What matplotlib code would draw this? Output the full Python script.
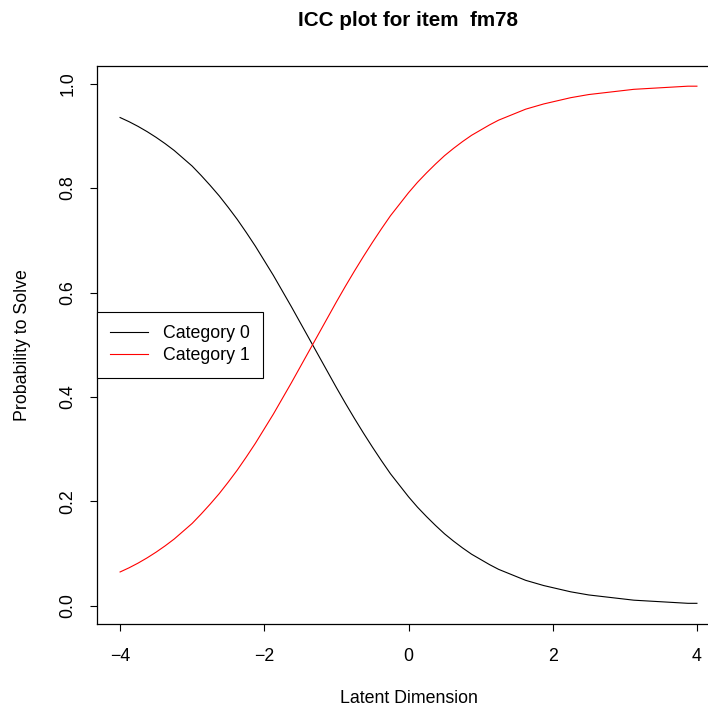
import matplotlib
matplotlib.use("Agg")
from matplotlib import pyplot as plt

# values
theta = [-4.0, -3.875, -3.75, -3.625, -3.5, -3.375, -3.25, -3.125, -3.0, -2.875,
         -2.75, -2.625, -2.5, -2.375, -2.25, -2.125, -2.0, -1.875, -1.75, -1.625,
         -1.5, -1.375, -1.25, -1.125, -1.0, -0.875, -0.75, -0.625, -0.5, -0.375,
         -0.25, -0.125, 0.0, 0.125, 0.25, 0.375, 0.5, 0.625, 0.75, 0.875,
         1.0, 1.125, 1.25, 1.375, 1.5, 1.625, 1.75, 1.875, 2.0, 2.125,
         2.25, 2.375, 2.5, 2.625, 2.75, 2.875, 3.0, 3.125, 3.25, 3.375,
         3.5, 3.625, 3.75, 3.875, 4.0]
cat1 = [0.065, 0.073, 0.082, 0.092, 0.103, 0.115, 0.128, 0.143, 0.158, 0.176,
        0.195, 0.215, 0.237, 0.260, 0.285, 0.311, 0.339, 0.367, 0.397, 0.427,
        0.458, 0.489, 0.520, 0.551, 0.582, 0.612, 0.641, 0.669, 0.696, 0.722,
        0.747, 0.769, 0.791, 0.811, 0.829, 0.846, 0.862, 0.876, 0.889, 0.901,
        0.911, 0.921, 0.930, 0.937, 0.944, 0.951, 0.956, 0.961, 0.965, 0.969,
        0.973, 0.976, 0.979, 0.981, 0.983, 0.985, 0.987, 0.989, 0.990, 0.991,
        0.992, 0.993, 0.994, 0.995, 0.995]
cat0 = [0.935, 0.927, 0.918, 0.908, 0.897, 0.885, 0.872, 0.857, 0.842, 0.824,
        0.805, 0.785, 0.763, 0.740, 0.715, 0.689, 0.661, 0.633, 0.603, 0.573,
        0.542, 0.511, 0.480, 0.449, 0.418, 0.388, 0.359, 0.331, 0.304, 0.278,
        0.253, 0.231, 0.209, 0.189, 0.171, 0.154, 0.138, 0.124, 0.111, 0.099,
        0.089, 0.079, 0.070, 0.063, 0.056, 0.049, 0.044, 0.039, 0.035, 0.031,
        0.027, 0.024, 0.021, 0.019, 0.017, 0.015, 0.013, 0.011, 0.010, 0.009,
        0.008, 0.007, 0.006, 0.005, 0.005]
labels = ["Category 0", "Category 1"]
xticks = [-4, -2, 0, 2, 4]
yticks = [0.0, 0.2, 0.4, 0.6, 0.8, 1.0]

plt.rcParams['font.family'] = ['Liberation Sans', 'DejaVu Sans']
FS = 12.8

W, H = 708, 709
fig = plt.figure(figsize=(W / 100, H / 100), dpi=100)
# plot region in pixels (R base graphics, region runs past the right edge)
left, right, top, bottom = 97, 720, 65.5, 624
ax = fig.add_axes([left / W, 1 - bottom / H, (right - left) / W, (bottom - top) / H])

ax.plot(theta, cat0, color="black", lw=0.8, label=labels[0])
ax.plot(theta, cat1, color="red", lw=0.8, label=labels[1])

# R style 4% padding around the data range
lo = min(min(cat0), min(cat1))
hi = max(max(cat0), max(cat1))
pad = 0.04 * (hi - lo)
ax.set_ylim(lo - pad, hi + pad)
ax.set_xlim(-4.32, 4.32)

ax.set_xticks(xticks)
ax.set_xticklabels(["\u22124", "\u22122", "0", "2", "4"])
ax.set_yticks(yticks)
ax.set_yticklabels(["%.1f" % v for v in yticks], rotation=90, va="center")
ax.tick_params(direction="out", length=5, width=0.8, labelsize=FS)
ax.tick_params(axis="x", pad=12)
ax.tick_params(axis="y", pad=10)
for s in ax.spines.values():
    s.set_linewidth(0.9)

ax.set_xlabel("Latent Dimension", fontsize=FS, labelpad=18.5)
ax.set_ylabel("Probability to Solve", fontsize=FS, labelpad=20)
fig.text(408 / W, 1 - 20 / H, "ICC plot for item  fm78", ha="center", va="center",
         fontsize=14.9, fontweight="bold")

leg = ax.legend(loc="center left", bbox_to_anchor=(0, 0.5), fancybox=False,
                edgecolor="black", framealpha=1, fontsize=FS, borderaxespad=0,
                handlelength=2.1, handletextpad=0.85, borderpad=0.75,
                labelspacing=0.3)
leg.get_frame().set_linewidth(0.8)

fig.savefig("out.png", dpi=100)
